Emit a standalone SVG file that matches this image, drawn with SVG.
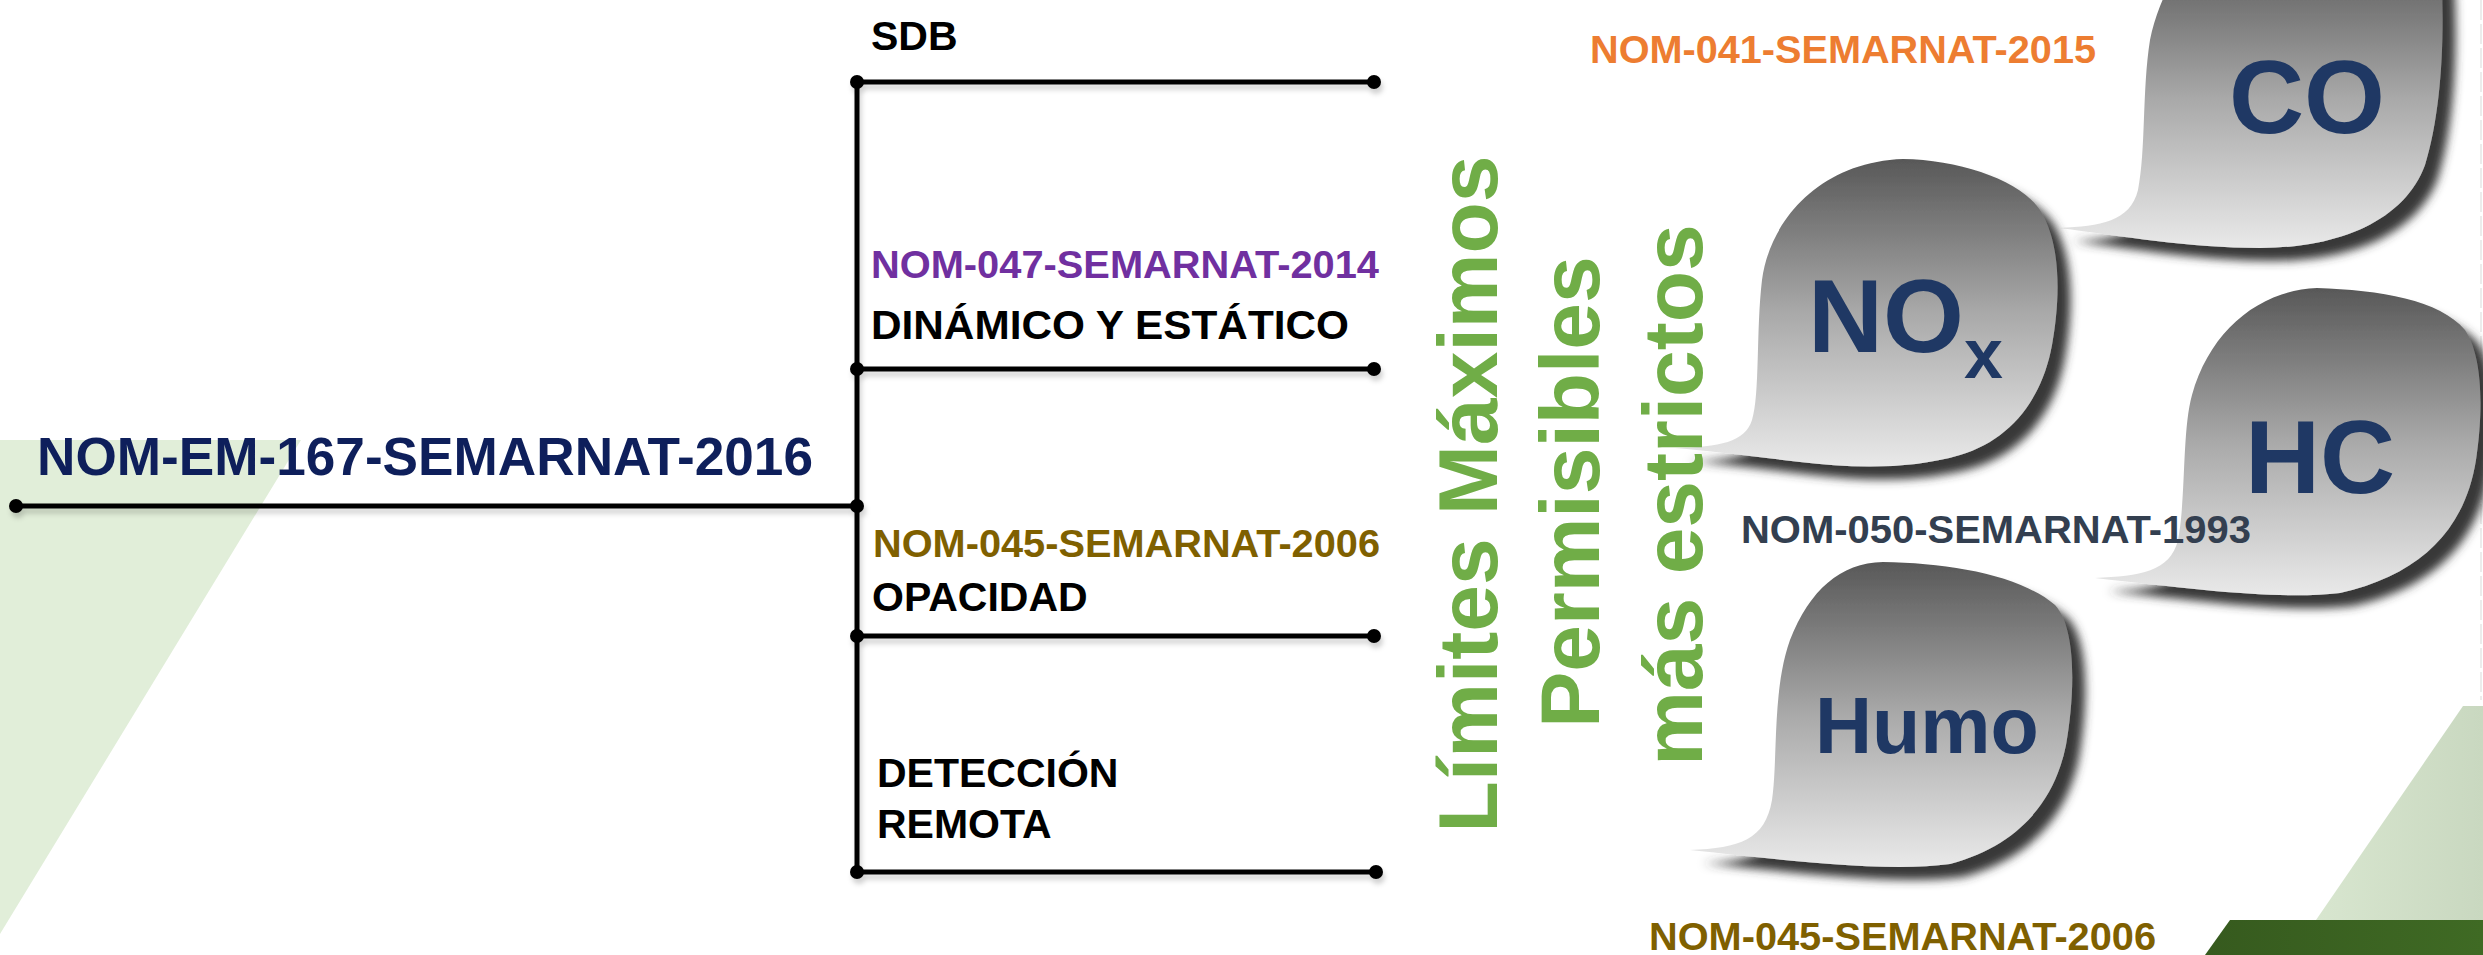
<svg xmlns="http://www.w3.org/2000/svg" width="2483" height="955" viewBox="0 0 2483 955">
<style>
  text { font-family: "Liberation Sans", Arial, sans-serif; font-weight: bold; }
  .blk { fill: #000000; font-size: 41px; }
  .nom { font-size: 39.5px; }
  .green { fill: #70ad47; font-size: 84px; }
  .gas { fill: #1f3864; }
  .ln { stroke: #000; stroke-width: 5; fill: none; }
  .dot { fill: #000; }
  .bubble { fill: url(#bubGrad); filter: url(#bubShadow); }
</style>
<defs>
  <linearGradient id="bubGrad" x1="0" y1="0" x2="0" y2="1">
    <stop offset="0" stop-color="#585858"/>
    <stop offset="0.5" stop-color="#a9a9a9"/>
    <stop offset="1" stop-color="#e9e9e9"/>
  </linearGradient>
  <linearGradient id="lightGreen" x1="0" y1="0" x2="1" y2="0">
    <stop offset="0" stop-color="#d8e6cf"/>
    <stop offset="1" stop-color="#c9d8c0"/>
  </linearGradient>
  <linearGradient id="darkGreen" x1="0" y1="0" x2="1" y2="0">
    <stop offset="0" stop-color="#365a1e"/>
    <stop offset="1" stop-color="#3f6a24"/>
  </linearGradient>
  <filter id="bubShadow" x="-20%" y="-20%" width="140%" height="140%">
    <feGaussianBlur in="SourceAlpha" stdDeviation="5"/>
    <feOffset dx="13" dy="13" result="b"/>
    <feFlood flood-color="#383838" flood-opacity="1"/>
    <feComposite in2="b" operator="in"/>
    <feMerge><feMergeNode/><feMergeNode in="SourceGraphic"/></feMerge>
  </filter>
  <filter id="lineShadow" x="-5%" y="-50%" width="110%" height="200%">
    <feGaussianBlur in="SourceAlpha" stdDeviation="2.5"/>
    <feOffset dx="2" dy="5" result="b"/>
    <feFlood flood-color="#000" flood-opacity="0.18"/>
    <feComposite in2="b" operator="in"/>
    <feMerge><feMergeNode/><feMergeNode in="SourceGraphic"/></feMerge>
  </filter>
</defs>

<rect width="2483" height="955" fill="#ffffff"/>

<g id="background">
  <polygon points="0,440 301,440 0,934" fill="#e1eed9"/>
  <polygon points="2463,706 2483,706 2483,920 2316,920" fill="url(#lightGreen)"/>
  <polygon points="2230,920 2483,920 2483,955 2205,955" fill="url(#darkGreen)"/>
  <line x1="2481" y1="0" x2="2481" y2="700" stroke="#ececec" stroke-width="2" stroke-dasharray="20 4"/>
</g>

<g id="connectors" filter="url(#lineShadow)">
  <line class="ln" x1="16" y1="506" x2="857" y2="506"/>
  <line class="ln" x1="857" y1="82" x2="857" y2="872"/>
  <line class="ln" x1="857" y1="82" x2="1374" y2="82"/>
  <line class="ln" x1="857" y1="369" x2="1374" y2="369"/>
  <line class="ln" x1="857" y1="636" x2="1374" y2="636"/>
  <line class="ln" x1="857" y1="872" x2="1376" y2="872"/>
  <circle class="dot" cx="16" cy="506" r="7"/>
  <circle class="dot" cx="857" cy="506" r="7"/>
  <circle class="dot" cx="857" cy="82" r="7"/>
  <circle class="dot" cx="857" cy="369" r="7"/>
  <circle class="dot" cx="857" cy="636" r="7"/>
  <circle class="dot" cx="857" cy="872" r="7"/>
  <circle class="dot" cx="1374" cy="82" r="7"/>
  <circle class="dot" cx="1374" cy="369" r="7"/>
  <circle class="dot" cx="1374" cy="636" r="7"/>
  <circle class="dot" cx="1376" cy="872" r="7"/>
</g>

<g id="root-node">
  <text x="37" y="475" font-size="53" fill="#0e1f5b" textLength="776" lengthAdjust="spacingAndGlyphs">NOM-EM-167-SEMARNAT-2016</text>
</g>

<g id="node-sdb">
  <text class="blk" x="871" y="50">SDB</text>
</g>
<g id="node-047">
  <text class="nom" x="871" y="278" fill="#7030a0" textLength="508" lengthAdjust="spacingAndGlyphs">NOM-047-SEMARNAT-2014</text>
  <text class="blk" x="871" y="339" textLength="478" lengthAdjust="spacingAndGlyphs">DINÁMICO Y ESTÁTICO</text>
</g>
<g id="node-045">
  <text class="nom" x="873" y="557" fill="#7f6000" textLength="507" lengthAdjust="spacingAndGlyphs">NOM-045-SEMARNAT-2006</text>
  <text class="blk" x="872" y="611">OPACIDAD</text>
</g>
<g id="node-remota">
  <text class="blk" x="877" y="787">DETECCIÓN</text>
  <text class="blk" x="877" y="838">REMOTA</text>
</g>

<g id="bubble-co">
  <path class="bubble" d="M 2060,228 C 2100,226 2130,222 2138,190 C 2146,150 2142,90 2150,40 C 2156,10 2170,-20 2190,-50 L 2440,-50 C 2446,30 2442,110 2425,165 C 2405,220 2340,248 2260,248 C 2190,248 2120,236 2060,228 Z"/>
  <text class="gas" x="2229" y="133" font-size="104">CO</text>
</g>
<g id="bubble-nox">
  <path class="bubble" d="M 1903,159 C 1960,160 2020,180 2040,210 C 2062,245 2060,300 2052,345 C 2042,400 2010,440 1960,455 C 1910,470 1850,468 1800,462 C 1750,456 1710,451 1675,448 C 1720,447 1745,442 1752,420 C 1760,395 1756,330 1762,280 C 1770,220 1820,162 1903,159 Z"/>
  <text class="gas" x="1808" y="352" font-size="104">NO<tspan font-size="70" dy="26">x</tspan></text>
</g>
<g id="bubble-hc">
  <path class="bubble" d="M 2317,288 C 2380,290 2440,300 2465,330 C 2485,360 2482,420 2476,460 C 2465,530 2420,575 2340,593 C 2280,600 2200,590 2095,578 C 2140,576 2170,572 2178,540 C 2186,500 2182,430 2192,395 C 2210,330 2260,290 2317,288 Z"/>
  <text class="gas" x="2245" y="493" font-size="104">HC</text>
</g>
<g id="bubble-humo">
  <path class="bubble" d="M 1883,562 C 1950,563 2020,575 2055,605 C 2078,630 2074,700 2066,745 C 2055,800 2020,845 1950,864 C 1890,872 1800,862 1690,850 C 1740,848 1765,840 1772,800 C 1778,760 1772,690 1790,640 C 1810,590 1840,563 1883,562 Z"/>
  <text class="gas" x="1815" y="753" font-size="79">Humo</text>
</g>

<g id="title-vertical">
  <text class="green" transform="translate(1497,494) rotate(-90)" text-anchor="middle">Límites Máximos</text>
  <text class="green" transform="translate(1599,492) rotate(-90)" text-anchor="middle">Permisibles</text>
  <text class="green" transform="translate(1702,495) rotate(-90)" text-anchor="middle">más estrictos</text>
</g>

<g id="norm-labels">
  <text class="nom" x="1590" y="63" fill="#ed7d31" textLength="506" lengthAdjust="spacingAndGlyphs">NOM-041-SEMARNAT-2015</text>
  <text class="nom" x="1741" y="543" fill="#333f50" textLength="510" lengthAdjust="spacingAndGlyphs">NOM-050-SEMARNAT-1993</text>
  <text class="nom" x="1649" y="950" fill="#7f6000" textLength="507" lengthAdjust="spacingAndGlyphs">NOM-045-SEMARNAT-2006</text>
</g>
</svg>
